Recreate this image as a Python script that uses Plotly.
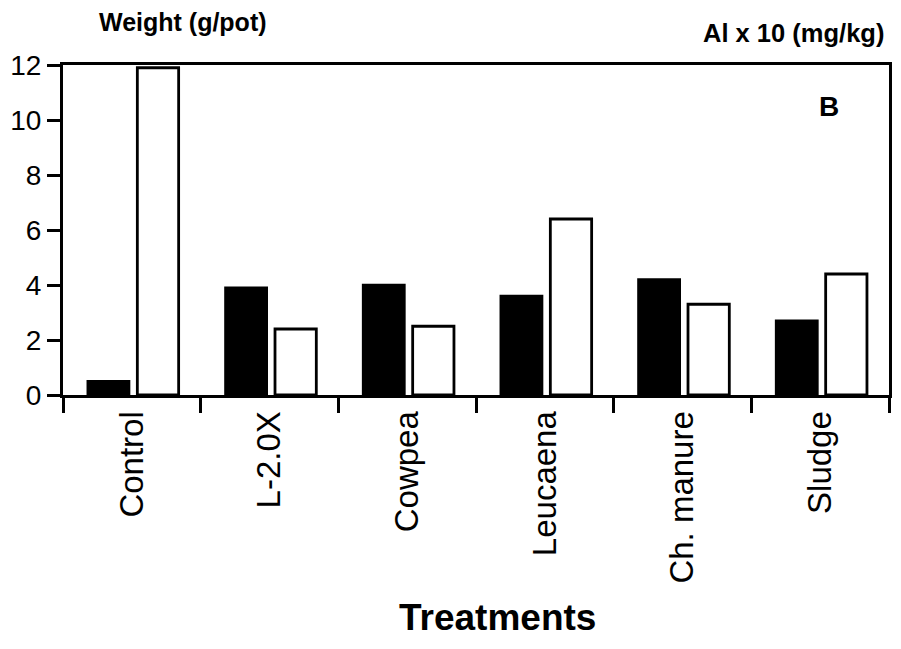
import plotly.graph_objects as go

# Treatments on the x axis
treatments = ["Control", "L-2.0X", "Cowpea", "Leucaena", "Ch. manure", "Sludge"]
# Plant dry weight (g/pot) - solid bars
weight = [0.5, 3.9, 4.0, 3.6, 4.2, 2.7]
# Aluminium x 10 (mg/kg) - open bars
aluminium = [11.9, 2.4, 2.5, 6.4, 3.3, 4.4]

y_ticks = [0, 2, 4, 6, 8, 10, 12]

FONT = "Liberation Sans, Arial, Helvetica, sans-serif"

fig = go.Figure()
fig.add_trace(go.Bar(
    x=treatments, y=weight, name="Weight (g/pot)",
    marker=dict(color="black", line=dict(color="black", width=2.5)),
    offset=-0.32, width=0.30,
))
fig.add_trace(go.Bar(
    x=treatments, y=aluminium, name="Al x 10 (mg/kg)",
    marker=dict(color="white", line=dict(color="black", width=2.8)),
    offset=0.04, width=0.30,
))

fig.update_layout(
    width=901, height=649,
    margin=dict(l=63, r=9, t=65, b=254),
    paper_bgcolor="white", plot_bgcolor="white",
    showlegend=False,
    barmode="overlay",
    font=dict(family=FONT, color="black"),
)

fig.update_xaxes(
    type="category", range=[-0.5, 5.5],
    showline=True, linecolor="black", linewidth=3, mirror=True,
    ticks="outside", tickson="boundaries", ticklen=15, tickwidth=3, tickcolor="black",
    tickangle=-90, tickfont=dict(size=33, family=FONT),
    showgrid=False, zeroline=False,
)
fig.update_yaxes(
    range=[0, 12], tickvals=y_ticks,
    showline=True, linecolor="black", linewidth=3, mirror=True,
    ticks="outside", ticklen=13, tickwidth=3, tickcolor="black",
    tickfont=dict(size=28, family=FONT),
    showgrid=False, zeroline=False,
)

fig.add_annotation(text="<b>Weight (g/pot)</b>", xref="paper", yref="paper",
                   x=(97 - 63) / 829, y=1 + (65 - 22) / 330, xanchor="left", yanchor="middle",
                   showarrow=False, font=dict(size=25, family=FONT))
fig.add_annotation(text="<b>Al x 10 (mg/kg)</b>", xref="paper", yref="paper",
                   x=(889 - 63) / 829, y=1 + (65 - 33) / 330, xanchor="right", yanchor="middle",
                   showarrow=False, font=dict(size=25.5, family=FONT))
fig.add_annotation(text="<b>B</b>", xref="paper", yref="paper",
                   x=(832 - 63) / 829, y=1 - (107 - 65) / 330, xanchor="center", yanchor="middle",
                   showarrow=False, font=dict(size=28, family=FONT))
fig.add_annotation(text="<b>Treatments</b>", xref="paper", yref="paper",
                   x=(499 - 63) / 829, y=-(617 - 395) / 330, xanchor="center", yanchor="middle",
                   showarrow=False, font=dict(size=37, family=FONT))

fig.write_html("out.html")
